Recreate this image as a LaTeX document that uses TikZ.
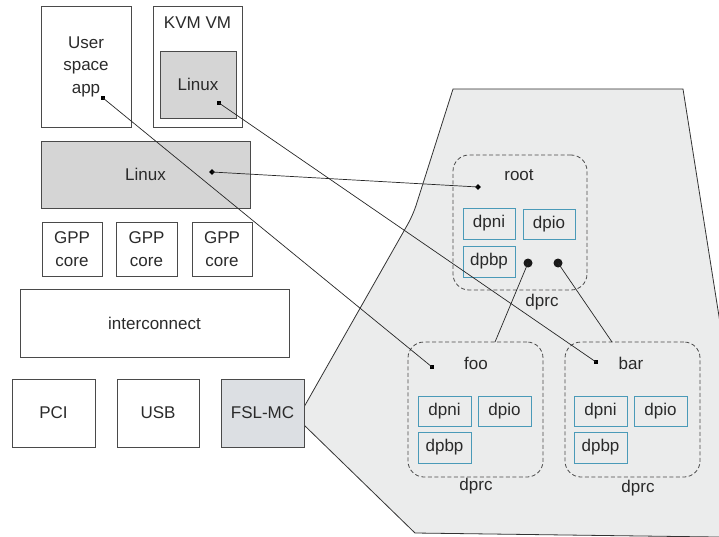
\documentclass[tikz,border=0pt]{standalone}
\usepackage{fontspec}
\setmainfont{Liberation Sans}
\definecolor{txt}{HTML}{2A2A2A}
\definecolor{edge}{HTML}{4A4A4A}
\definecolor{shade}{HTML}{D5D5D5}
\definecolor{panel}{HTML}{EBECEC}
\definecolor{mcfill}{HTML}{DCDFE3}
\definecolor{objedge}{HTML}{4A9AB8}
\begin{document}
\begin{tikzpicture}[x=1pt,y=-1pt,
  every node/.style={font=\fontsize{17}{22.5}\selectfont, text=txt},
  box/.style={draw=edge, line width=0.9pt, inner sep=0pt, outer sep=0pt, align=center},
  greybox/.style={box, fill=shade},
  obj/.style={draw=objedge, line width=0.9pt, fill=panel, inner sep=0pt, outer sep=0pt,
              minimum width=52pt, minimum height=31pt},
  container/.style={draw=edge, dash pattern=on 4pt off 2.5pt, line width=0.8pt,
              rounded corners=16pt, minimum width=134pt, minimum height=135pt,
              inner sep=0pt, outer sep=0pt},
  sqdot/.style={fill=black, inner sep=0pt, minimum size=4.5pt, outer sep=0pt},
  dmdot/.style={fill=black, inner sep=0pt, minimum size=4pt, rotate=45, outer sep=0pt},
  bigdot/.style={circle, fill=black!90, inner sep=0pt, minimum size=9pt, outer sep=0pt},
  link/.style={draw=black!85, line width=0.7pt},
  caption/.style={inner sep=0pt}]
\useasboundingbox (0,0) rectangle (719,537);

% background panel of the management complex
\begin{scope}
  \clip (0,0) rectangle (719,537);
  \draw[fill=panel, draw=black!80, line width=0.8pt]
    (304,425) -- (415,533) -- (754,537.5) -- (683,89) -- (453,89)
    [rounded corners=10pt] -- (413,215) [sharp corners] -- (304,407) -- cycle;
\end{scope}

% host side
\node[box, minimum width=90pt, minimum height=121pt] (user) at (86,66.5) {User\\space\\app};
\node[box, minimum width=89pt, minimum height=121pt] (kvm) at (197.5,66.5) {};
\node[caption] (kvmTitle) at (197.5,23) {KVM VM};
\node[greybox, minimum width=76pt, minimum height=67pt] (guest) at (198,84.5) {Linux};
\node[greybox, minimum width=209pt, minimum height=67pt] (host) at (145.5,174.5) {Linux};

\node[box, minimum width=60pt, minimum height=54pt] (gppA) at (72,249) {GPP\\core};
\node[box, minimum width=61pt, minimum height=54pt] (gppB) at (146.5,249) {GPP\\core};
\node[box, minimum width=60pt, minimum height=54pt] (gppC) at (222,249) {GPP\\core};

\node[box, minimum width=269pt, minimum height=68pt] (ic) at (154.5,323) {interconnect};

\node[box, minimum width=83pt, minimum height=68pt] (pci) at (53.5,413) {PCI};
\node[box, minimum width=82pt, minimum height=68pt] (usb) at (158,413) {USB};
\node[box, fill=mcfill, minimum width=83pt, minimum height=68pt] (fslmc) at (262.5,413) {FSL-MC};

% root container
\node[container] (root) at (520,222.5) {};
\node[caption] (rootName) at (519,175) {root};
\node[obj] (rNi) at (489,223.5) {dpni};
\node[obj, minimum height=30pt] (rIo) at (549,224) {dpio};
\node[obj] (rBp) at (489,261.5) {dpbp};
\node[caption] (rootType) at (542,302) {dprc};

% foo container
\node[container, minimum width=135pt] (foo) at (475.5,409.5) {};
\node[caption] (fooName) at (476,363) {foo};
\node[obj, minimum width=53pt, minimum height=30pt] (fNi) at (444.5,411) {dpni};
\node[obj, minimum width=53pt, minimum height=30pt] (fIo) at (504.5,411) {dpio};
\node[obj, minimum width=53pt] (fBp) at (444.5,447.5) {dpbp};
\node[caption] (fooType) at (476,486) {dprc};

% bar container
\node[container, minimum width=135pt] (bar) at (632.5,409.5) {};
\node[caption] (barName) at (631,363) {bar};
\node[obj, minimum width=53pt, minimum height=30pt] (bNi) at (600.5,411) {dpni};
\node[obj, minimum width=53pt, minimum height=30pt] (bIo) at (660.5,411) {dpio};
\node[obj, minimum width=53pt] (bBp) at (600.5,447.5) {dpbp};
\node[caption] (barType) at (638,488) {dprc};

% attachment points
\node[sqdot] (userDot) at (103,98) {};
\node[sqdot] (guestDot) at (219,103) {};
\node[dmdot] (hostDot) at (212,172) {};
\node[dmdot] (rootDot) at (478,187) {};
\node[sqdot] (fooDot) at (432,367) {};
\node[sqdot] (barDot) at (596,362) {};
\node[bigdot] (childA) at (528,263) {};
\node[bigdot] (childB) at (558,263) {};
\coordinate (fooTop) at (495,342);
\coordinate (barTop) at (612,342);

% connections
\draw[link] (userDot.center) -- (fooDot.center);
\draw[link] (guestDot.center) -- (barDot.center);
\draw[link] (hostDot.center) -- (rootDot.center);
\draw[link] (childA.center) -- (fooTop);
\draw[link] (childB.center) -- (barTop);
\end{tikzpicture}
\end{document}
